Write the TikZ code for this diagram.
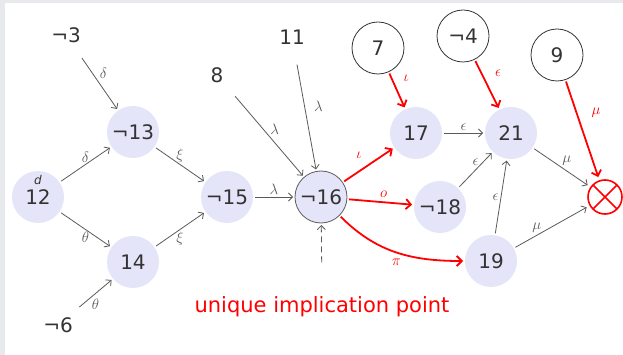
\RequirePackage{fix-cm}
\documentclass[tikz,border=0pt]{standalone}
\usepackage{fontspec}
\setmainfont{DejaVu Sans}
\usetikzlibrary{arrows.meta}
\definecolor{nodefill}{RGB}{229,229,250}
\definecolor{ink}{RGB}{51,51,51}
\definecolor{wire}{RGB}{90,90,90}
\definecolor{frame}{RGB}{232,233,236}

\begin{document}
\begin{tikzpicture}[x=1pt,y=-1pt,>={Straight Barb[length=4pt,width=8pt]},
  every node/.style={font=\fontsize{20}{24}\selectfont,text=ink},
  free/.style={circle,minimum size=52pt,inner sep=0pt,outer sep=2pt},
  lit/.style={free,fill=nodefill},
  ring/.style={free,draw=ink,line width=0.8pt},
  conf/.style={circle,minimum size=34pt,inner sep=0pt,outer sep=4pt,draw=red,line width=1.6pt,
    path picture={\draw[red,line width=1.6pt] (path picture bounding box.north west) -- (path picture bounding box.south east)
      (path picture bounding box.north east) -- (path picture bounding box.south west);}},
  imp/.style={wire,line width=0.8pt,->},
  hot/.style={red,line width=1.8pt,->,>={Straight Barb[length=5pt,width=10pt]}},
  lbl/.style={font=\fontsize{15}{18}\selectfont,text=wire,inner sep=2pt},
  hotlbl/.style={lbl,text=red},
  dlbl/.style={font=\fontsize{12}{14}\selectfont\itshape,text=ink,inner sep=0pt,outer sep=0pt,label distance=-16pt}]
\useasboundingbox (0,0) rectangle (623,355);
\fill[frame] (0,0) rectangle (623,355);
\fill[white] (5,3) rectangle (623,355);
\node[free] (n3) at (66,35) {¬3};
\node[free] (n11) at (292,37) {11};
\node[free] (n8) at (217,75) {8};
\node[ring] (n7) at (378,48) {7};
\node[ring] (n4) at (463,36) {¬4};
\node[ring] (n9) at (557,55) {9};
\node[lit] (n13) at (133,132) {¬13};
\node[lit,label={[dlbl]90:d}] (n12) at (38,197) {12};
\node[lit] (n14) at (133,262) {14};
\node[lit] (n15) at (227,197) {¬15};
\node[lit,draw=ink!80,line width=0.8pt] (n16) at (321,197) {¬16};
\node[lit] (n17) at (416,133) {17};
\node[lit] (n21) at (511,133) {21};
\node[lit] (n18) at (440,207) {¬18};
\node[lit] (n19) at (491,261) {19};
\node[conf] (k) at (605,197) {};
\node[free] (n6) at (58,325) {¬6};
\node[text=red,font=\fontsize{21}{25}\selectfont] (uip) at (322,307) {unique implication point};
\draw[imp] (n3) -- node[lbl,pos=0.3,right=5pt]{$\delta$} (n13);
\draw[imp] (n12) -- node[lbl,above]{$\delta$} (n13);
\draw[imp] (n12) -- node[lbl,below]{$\theta$} (n14);
\draw[imp] (n13) -- node[lbl,above]{$\xi$} (n15);
\draw[imp] (n14) -- node[lbl,below]{$\xi$} (n15);
\draw[imp] (n6) -- node[lbl,below=3pt]{$\theta$} (n14);
\draw[imp] (n15) -- node[lbl,above]{$\lambda$} (n16);
\draw[imp] (n8) -- node[lbl,above right=-1pt]{$\lambda$} (n16);
\draw[imp] (n11) -- node[lbl,pos=0.4,right=7pt]{$\lambda$} (n16);
\draw[hot] (n7) -- node[hotlbl,pos=0.15,right=9pt]{$\iota$} (n17);
\draw[hot] (n4) -- node[hotlbl,pos=0.25,right=11pt]{$\epsilon$} (n21);
\draw[hot] (n9) -- node[hotlbl,pos=0.33,right=12pt]{$\mu$} (k);
\draw[hot] (n16) -- node[hotlbl,above left=4pt]{$\iota$} (n17);
\draw[hot] (n16) -- node[hotlbl,above=2pt,pos=0.55]{$o$} (n18);
\draw[hot] (n16) to[out=-45,in=180] node[hotlbl,below=4pt]{$\pi$} (n19);
\draw[imp] (n17) -- node[lbl,above]{$\epsilon$} (n21);
\draw[imp] (n18) -- node[lbl,above=2pt]{$\epsilon$} (n21);
\draw[imp] (n19) -- node[lbl,left]{$\epsilon$} (n21);
\draw[imp] (n21) -- node[lbl,above right=-1pt]{$\mu$} (k);
\draw[imp] (n19) -- node[lbl,pos=0.3,above]{$\mu$} (k);
\draw[imp,dash pattern=on 6pt off 4pt,shorten <=31pt] (uip.north) -- (n16);
\end{tikzpicture}
\end{document}
